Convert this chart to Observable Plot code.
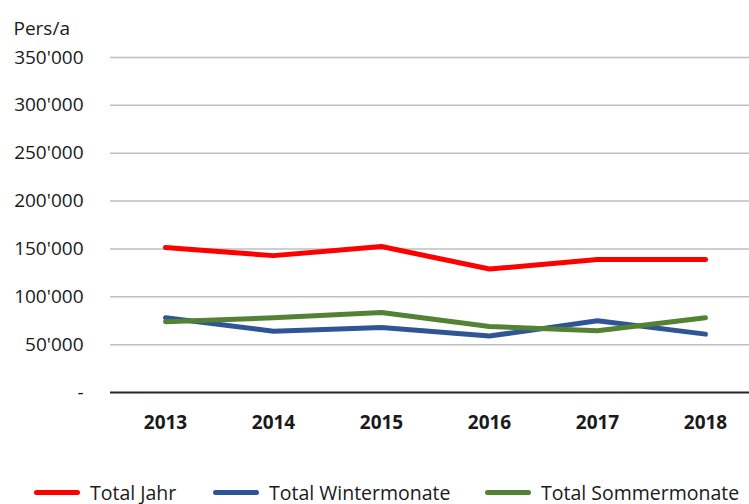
<!DOCTYPE html>
<html>
<head>
<meta charset="utf-8">
<script src="https://cdn.jsdelivr.net/npm/d3@7"></script>
<script src="https://cdn.jsdelivr.net/npm/@observablehq/plot@0.6"></script>
<style>
  html, body { margin: 0; padding: 0; background: #fff; }
  #wrap { position: relative; width: 749px; height: 504px; overflow: hidden; font-family: "Open Sans", sans-serif; }
  #legend { position: absolute; left: 0; top: 475px; width: 749px; height: 34px; }
  .item { position: absolute; top: 0; height: 34px; display: flex; align-items: center; font-size: 19.5px; color: #1a1a1a; white-space: nowrap; }
  .sw { width: 46px; height: 5px; border-radius: 3px; margin-right: 10px; }
</style>
</head>
<body>
<div id="wrap">
  <div id="chart"></div>
  <div id="legend"></div>
</div>
<script>
const years = ["2013", "2014", "2015", "2016", "2017", "2018"];
const seriesNames = ["Total Jahr", "Total Wintermonate", "Total Sommermonate"];
const seriesColors = ["#FF0000", "#2F5597", "#548235"];
const totalJahr = [151500, 143000, 152500, 129000, 139000, 139000];
const totalWinter = [78000, 64000, 68000, 59000, 75000, 61000];
const totalSommer = [74000, 78000, 83500, 69000, 64500, 78000];
const yTicks = [0, 50000, 100000, 150000, 200000, 250000, 300000, 350000];
const yTickLabels = ["-", "50'000", "100'000", "150'000", "200'000", "250'000", "300'000", "350'000"];
const yTitle = "Pers/a";
const legendLeft = [34, 213, 485];

const seriesValues = [totalJahr, totalWinter, totalSommer];
const rows = [];
seriesNames.forEach((name, s) => {
  years.forEach((yr, i) => rows.push({series: name, year: yr, value: seriesValues[s][i]}));
});

const plot = Plot.plot({
  width: 749,
  height: 470,
  marginLeft: 110,
  marginRight: 0,
  marginTop: 57,
  marginBottom: 78,
  style: { fontFamily: "Open Sans, sans-serif", fontSize: "19px", color: "#1a1a1a", background: "#fff" },
  x: { type: "point", domain: years, padding: 0.4583, align: 0.5556 },
  y: { domain: [0, 350000] },
  color: { domain: seriesNames, range: seriesColors },
  marks: [
    Plot.gridY(yTicks.filter(d => d > 0), { stroke: "#BFBFBF", strokeOpacity: 1, strokeWidth: 1.5 }),
    Plot.ruleY([0], { stroke: "#262626", strokeWidth: 1.8 }),
    Plot.axisY({
      ticks: yTicks,
      tickSize: 0,
      tickPadding: 27,
      tickFormat: d => yTickLabels[yTicks.indexOf(d)],
      label: null,
      fontSize: 19
    }),
    Plot.axisX({
      tickSize: 0,
      tickPadding: 23,
      label: null,
      fontWeight: "bold",
      fontSize: 19
    }),
    Plot.line(rows, {
      x: "year", y: "value", z: "series", stroke: "series",
      strokeWidth: 5, strokeLinecap: "round", strokeLinejoin: "round"
    }),
    Plot.text([yTitle], {
      frameAnchor: "top-left", text: d => d, textAnchor: "start",
      dx: -97, dy: -36, fontSize: 19, fill: "#1a1a1a"
    })
  ]
});
document.getElementById("chart").appendChild(plot);

const legend = document.getElementById("legend");
seriesNames.forEach((name, i) => {
  const item = document.createElement("div");
  item.className = "item";
  item.style.left = legendLeft[i] + "px";
  const sw = document.createElement("div");
  sw.className = "sw";
  sw.style.background = seriesColors[i];
  const t = document.createElement("span");
  t.textContent = name;
  item.appendChild(sw);
  item.appendChild(t);
  legend.appendChild(item);
});
</script>
</body>
</html>
